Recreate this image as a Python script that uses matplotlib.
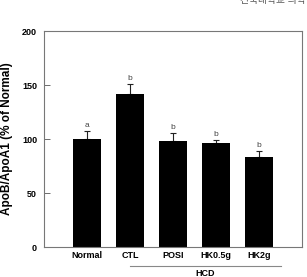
import matplotlib.pyplot as plt
import numpy as np

# ---- data ----
groups = ['Normal', 'CTL', 'POSI', 'HK0.5g', 'HK2g']
values = [100, 141.5, 98, 96, 83.5]
errors = [7, 9.5, 7.5, 3, 5.5]
letters = ['a', 'b', 'b', 'b', 'b']

plt.rcParams['font.family'] = ['Liberation Sans', 'Noto Sans CJK KR', 'DejaVu Sans']

fig = plt.figure(figsize=(3.07, 2.77), dpi=100)
ax = fig.add_axes([0.1433, 0.1083, 0.8404, 0.7797])

x = np.arange(len(groups))
ax.bar(x, values, width=0.63, color='black', zorder=2)
ax.errorbar(x, values, yerr=[np.zeros(len(errors)), errors], fmt='none',
            ecolor='#222222', elinewidth=0.8, capsize=2.2, capthick=0.8, zorder=1)

for xi, v, e, l in zip(x, values, errors, letters):
    ax.text(xi, v + e + 2, l, ha='center', va='bottom', fontsize=6, color='#444444')

ax.set_xlim(-1, 5)
ax.set_ylim(0, 200)
ax.set_yticks([0, 50, 100, 150, 200])
ax.set_yticklabels(['0', '50', '100', '150', '200'], fontsize=6.5, fontweight='bold')
ax.set_xticks(x)
ax.set_xticklabels(groups, fontsize=6.5, fontweight='bold')
ax.tick_params(axis='y', direction='in', length=4, width=0.6, color='#555555', pad=5)
ax.tick_params(axis='x', length=0, pad=3)
for s in ax.spines.values():
    s.set_color('#777777')
    s.set_linewidth(0.8)

ax.set_ylabel('ApoB/ApoA1 (% of Normal)', fontsize=8.5, fontweight='bold')
ax.yaxis.set_label_coords(-0.122, 0.5)

# HCD group bracket
fig.add_artist(plt.Line2D([130 / 307, 281 / 307], [1 - 266 / 277, 1 - 266 / 277],
                          color='#888888', linewidth=0.8))
fig.text(205 / 307, 1 - 274 / 277, 'HCD', ha='center', va='center',
         fontsize=6.5, fontweight='bold')

# header text, clipped at the top edge as in the source image
fig.text(240 / 307, 1.0, '건국대학교 의학', ha='left', va='center',
         fontsize=7, color='#555555')

fig.savefig('out.png', dpi=100)
